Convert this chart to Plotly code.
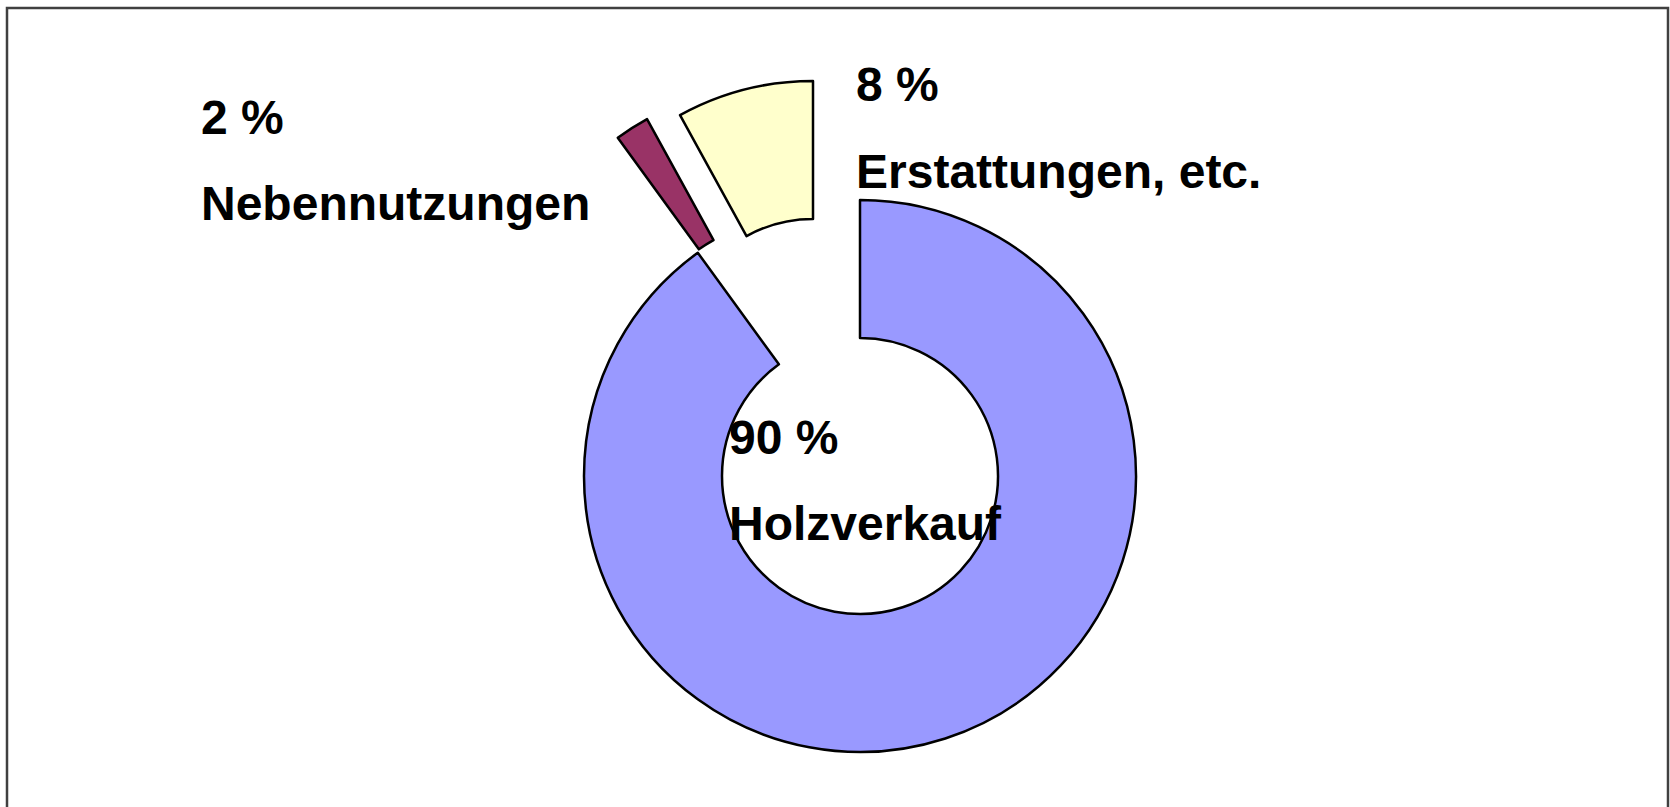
import plotly.graph_objects as go

# ---- data ----
categories = ["Holzverkauf", "Nebennutzungen", "Erstattungen, etc."]
values = [90, 2, 8]
colors = ["#9999FF", "#993366", "#FFFFCC"]

# ---- layout constants ----
W, H = 1670, 807
R = 276          # pie radius in px
HOLE = 0.5
# slice centres (px) – Holzverkauf in place, the two small slices exploded
centers = [(860, 476), (780, 361), (813, 357)]

fig = go.Figure()
for i, (cx, cy) in enumerate(centers):
    slice_colors = [colors[j] if j == i else "rgba(0,0,0,0)" for j in range(len(values))]
    line_w = [2.5 if j == i else 0 for j in range(len(values))]
    fig.add_trace(go.Pie(
        labels=categories,
        values=values,
        sort=False,
        direction="clockwise",
        rotation=0,
        hole=HOLE,
        textinfo="none",
        hoverinfo="skip",
        showlegend=False,
        marker=dict(colors=slice_colors, line=dict(color="black", width=line_w)),
        domain=dict(x=[(cx - R) / W, (cx + R) / W],
                    y=[1 - (cy + R) / H, 1 - (cy - R) / H]),
    ))

FONT = dict(family="Liberation Sans, Arial, sans-serif", size=48, color="black")

# label positions: (left x, cap-middle y) for percent line and name line
label_pos = [
    ((730, 437), (730, 523)),   # Holzverkauf
    ((202, 117), (202, 203)),   # Nebennutzungen
    ((857, 84), (857, 171)),    # Erstattungen
]
for i, ((x1, y1), (x2, y2)) in enumerate(label_pos):
    for (x, y), txt in (((x1, y1), f"<b>{values[i]} %</b>"), ((x2, y2), f"<b>{categories[i]}</b>")):
        fig.add_annotation(x=x / W, y=1 - y / H, xref="paper", yref="paper",
                           text=txt, showarrow=False, xanchor="left", yanchor="middle",
                           font=FONT, xshift=-3)

# outer frame
fig.add_shape(type="rect", xref="paper", yref="paper",
              x0=7 / W, x1=1668 / W, y0=-0.05, y1=1 - 8 / H,
              line=dict(color="#404040", width=2.5), fillcolor="rgba(0,0,0,0)")

fig.update_layout(width=W, height=H, margin=dict(l=0, r=0, t=0, b=0),
                  paper_bgcolor="white", plot_bgcolor="white")

fig.write_html("out.html",
               config={"displayModeBar": False},
               post_script="document.body.style.margin='0';"
                           "document.documentElement.style.overflow='hidden';")
